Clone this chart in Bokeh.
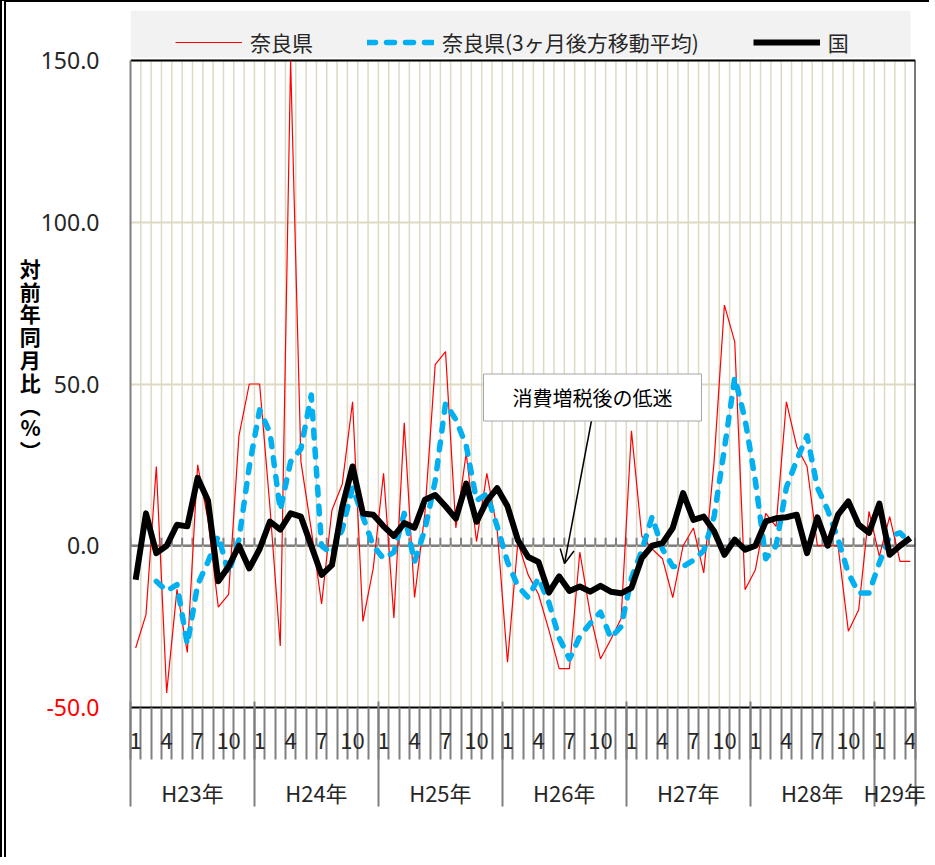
import numpy as np
from bokeh.plotting import figure
from bokeh.models import (Range1d, FixedTicker, LinearAxis, Legend, LegendItem, Label,
                          Arrow, OpenHead, Span, NumeralTickFormatter, BoxAnnotation,
                          ColumnDataSource)
from bokeh.embed import file_html
from bokeh.resources import INLINE

# ---------------- data ----------------
years = ["H23年", "H24年", "H25年", "H26年", "H27年", "H28年", "H29年"]
months_in_year = [12, 12, 12, 12, 12, 12, 4]
shown_months = [1, 4, 7, 10]

nara = [-31.6, -21.3, 24.5, -45.5, -13.5, -33.0, 25.0, 8.0, -19.0, -15.0, 34.0, 50.0,
        50.0, 12.0, -31.0, 150.0, 26.0, 5.0, -18.0, 11.0, 19.0, 44.5, -23.4, -7.0,
        22.4, -22.3, 38.0, -16.0, 10.0, 56.0, 60.0, 5.5, 28.6, 1.3, 22.4, 5.0,
        -36.0, 1.0, -9.0, -15.0, -26.0, -38.0, -38.0, -2.0, -21.0, -35.0, -29.0, -22.5,
        35.5, 3.0, -1.0, -4.0, -16.0, 0.0, 5.5, -8.4, 26.0, 74.4, 63.0, -13.6,
        -7.4, 10.0, 6.0, 44.5, 30.7, 24.5, 0.0, 0.0, 0.0, -26.4, -19.8, 10.6,
        -3.3, 9.0, -4.8, -4.8]

nara_ma = [np.nan, np.nan, -11.0, -14.0, -12.0, -30.5, -12.0, -5.0, 3.0, -8.5, 2.0, 24.5,
           42.0, 35.0, 11.0, 26.0, 30.0, 46.6, 0.0, -2.5, 5.0, 18.0, 9.0, 0.0,
           -4.0, -2.0, 10.0, -5.0, 5.0, 20.0, 44.0, 39.0, 31.0, 14.0, 16.0, 6.0,
           -5.0, -12.5, -16.0, -10.0, -17.5, -28.5, -35.0, -28.0, -24.0, -20.5, -28.5, -25.0,
           -10.0, -1.5, 9.0, -1.0, -6.4, -6.4, -4.5, -1.5, 9.0, 30.0, 52.0, 39.0,
           20.0, -4.0, 0.0, 18.0, 26.5, 34.0, 18.0, 11.0, 2.0, -8.5, -14.6, -14.6,
           -5.3, 3.0, 4.0, 1.0]

kuni = [-10.5, 10.0, -2.3, 0.0, 6.5, 6.0, 21.0, 14.0, -11.0, -6.4, 0.0, -7.0,
        -1.0, 7.5, 5.0, 10.0, 9.0, 0.0, -9.0, -6.0, 12.0, 24.5, 10.0, 9.6,
        6.0, 3.0, 7.0, 5.6, 14.2, 15.7, 12.2, 8.4, 19.2, 7.4, 13.8, 17.8,
        12.2, 1.8, -3.5, -5.0, -14.5, -9.5, -14.0, -12.6, -14.2, -12.4, -14.2, -14.7,
        -13.0, -3.8, 0.0, 0.8, 5.5, 16.3, 8.0, 9.0, 4.5, -2.8, 1.9, -1.2,
        0.0, 7.5, 8.5, 8.8, 9.6, -2.3, 8.8, 0.0, 9.6, 13.7, 6.5, 4.0,
        13.0, -2.8, 0.0, 2.4]

series_labels = ["奈良県", "奈良県(3ヶ月後方移動平均)", "国"]
y_min, y_max = -50, 150
y_ticks = [-50, 0, 50, 100, 150]
pos_ticks = [0, 50, 100, 150]
neg_ticks = [-50]
note_text = "消費増税後の低迷"
y_title = "対\n前\n年\n同\n月\n比\n︵\n%\n︶"

# ---------------- derived positions ----------------
month_num = [m for n in months_in_year for m in range(1, n + 1)]
n_months = len(month_num)
xs = list(range(n_months))
month_bounds = [i - 0.5 for i in range(n_months + 1)]
label_idx = [float(i) for i, m in enumerate(month_num) if m in shown_months]
month_over = {float(i): str(month_num[int(i)]) for i in label_idx}
starts = np.cumsum([0] + months_in_year[:-1])
year_centers = [float(s + (n - 1) / 2) for s, n in zip(starts, months_in_year)]
year_bounds = [float(s) - 0.5 for s in starts] + [n_months - 0.5]
year_over = {c: y for c, y in zip(year_centers, years)}

src = ColumnDataSource(dict(x=xs, nara=nara, ma=nara_ma, kuni=kuni))

GRID = "#ddd9c3"
GRAY = "#808080"
TXT = "#262626"
CJK = "Noto Sans CJK JP"

PLOT_H = 647                 # height of the value area (150 .. -50)
LEG_H = 50                   # legend strip above it, inside the frame
FW, FH = 785, PLOT_H + LEG_H
PXX = FW / n_months
PXY = PLOT_H / float(y_max - y_min)
y_top = y_max + LEG_H / PXY

BL, BT = 6, 2                # outer border widths (left, top)


def dx(px):  # page x -> data x
    return -0.5 + (px - 130) / PXX


def dy(py):  # page y -> data y
    return y_max + (60 - py) / PXY


p = figure(frame_width=FW, frame_height=FH, output_backend="svg", toolbar_location=None,
           x_range=Range1d(-0.5, n_months - 0.5), y_range=Range1d(y_min, y_top),
           x_axis_type=None, min_border_left=130 - BL, min_border_right=14,
           min_border_top=60 - LEG_H - BT, min_border_bottom=150)
p.styles = {"border-left": f"{BL}px double #000", "border-top": f"{BT}px solid #000"}
p.outline_line_color = None

# inner y axis: axis line and the red -50.0 label
ya = p.yaxis[0]
ya.bounds = (y_min, y_max)
ya.ticker = FixedTicker(ticks=neg_ticks)
ya.formatter = NumeralTickFormatter(format="0.0")
ya.major_tick_in = 0
ya.major_tick_out = 0
ya.minor_tick_line_color = None
ya.axis_line_color = GRAY
ya.axis_line_width = 2
ya.major_label_standoff = 31
ya.major_label_text_font = "Noto Sans"
ya.major_label_text_font_size = "23px"
ya.major_label_text_color = "#ff0000"

# outer y axis: black labels pulled back over the inner one, plus stacked title
NEG_W = 56
yb = LinearAxis(ticker=FixedTicker(ticks=pos_ticks), bounds=(y_min, y_max),
                formatter=NumeralTickFormatter(format="0.0"),
                major_tick_out=0, major_tick_in=0, minor_tick_line_color=None,
                axis_line_color=None, major_label_standoff=-NEG_W,
                major_label_text_font="Noto Sans", major_label_text_font_size="23px",
                major_label_text_color=TXT,
                axis_label=y_title, axis_label_orientation="horizontal",
                axis_label_standoff=-3, axis_label_text_font=CJK,
                axis_label_text_font_style="bold", axis_label_text_font_size="21px",
                axis_label_text_line_height=0.76, axis_label_text_color="black")
p.add_layout(yb, "left")

p.ygrid.ticker = FixedTicker(ticks=y_ticks)
p.ygrid.grid_line_color = GRID
p.ygrid.grid_line_width = 2

# x axes (months, years)
xa1 = LinearAxis(ticker=FixedTicker(ticks=label_idx, minor_ticks=month_bounds),
                 major_label_overrides=month_over,
                 major_tick_out=0, major_tick_in=0,
                 minor_tick_out=52, minor_tick_in=0,
                 minor_tick_line_color=GRAY, minor_tick_line_width=2,
                 axis_line_color="black", axis_line_width=2,
                 major_label_standoff=-27,
                 major_label_text_font=CJK, major_label_text_font_size="22px",
                 major_label_text_color=TXT)
p.add_layout(xa1, "below")
xa2 = LinearAxis(ticker=FixedTicker(ticks=year_centers, minor_ticks=year_bounds),
                 major_label_overrides=year_over,
                 major_tick_out=0, major_tick_in=0,
                 minor_tick_out=55, minor_tick_in=50,
                 minor_tick_line_color=GRAY, minor_tick_line_width=2,
                 axis_line_color=None,
                 major_label_standoff=-31,
                 major_label_text_font=CJK, major_label_text_font_size="22px",
                 major_label_text_color=TXT)
p.add_layout(xa2, "below")

# month gridlines limited to the value area
nb = len(month_bounds)
p.segment(x0=month_bounds, y0=[y_min] * nb, x1=month_bounds, y1=[y_max] * nb,
          line_color=GRID, line_width=1.5)

# zero line with small ticks
p.add_layout(Span(location=0, dimension="width", line_color=GRAY, line_width=2.5,
                  level="underlay"))
p.segment(x0=month_bounds, y0=[0] * nb, x1=month_bounds,
          y1=[8 / PXY] * nb, line_color=GRAY, line_width=2)

# plot-area border (top and right)
x_lo, x_hi = month_bounds[0], month_bounds[-1]
p.segment(x0=[x_lo, x_hi], y0=[y_max, y_min], x1=[x_hi, x_hi], y1=[y_max, y_max],
          line_color="black", line_width=2)

# series
r1 = p.line("x", "nara", source=src, line_color="#ff0000", line_width=1.2)
r2 = p.line("x", "ma", source=src, line_color="#00b0f0", line_width=5.5,
            line_dash="8 11", line_cap="round", line_join="round")
r3 = p.line("x", "kuni", source=src, line_color="black", line_width=6,
            line_join="round")

# legend strip above the value area
p.add_layout(BoxAnnotation(left=x_lo, right=dx(910), bottom=dy(57), top=y_top,
                           fill_color="#f2f2f2", fill_alpha=1, line_color=None))
legend = Legend(items=[LegendItem(label=series_labels[0], renderers=[r1]),
                       LegendItem(label=series_labels[1], renderers=[r2]),
                       LegendItem(label=series_labels[2], renderers=[r3])],
                orientation="horizontal", location=(45, PLOT_H + 3), margin=0,
                padding=8, spacing=54, label_standoff=8, glyph_width=67,
                glyph_height=20, label_text_font=CJK, label_text_font_size="21px",
                label_text_color=TXT, background_fill_alpha=0,
                border_line_color=None)
p.add_layout(legend)

# annotation
p.add_layout(Arrow(end=OpenHead(size=14, line_width=1.5, line_color="black"),
                   x_start=dx(591), y_start=dy(420), x_end=dx(564), y_end=dy(563),
                   line_width=1.5, line_color="black"))
p.add_layout(Label(x=dx(592), y=dy(397), text=note_text, text_align="center",
                   text_baseline="middle", text_font=CJK, text_font_size="20px",
                   text_color="black", background_fill_color="white",
                   border_line_color="#a6a6a6", border_line_width=1,
                   padding=(29, 9)))

open("out.html", "w").write(file_html(p, INLINE))
